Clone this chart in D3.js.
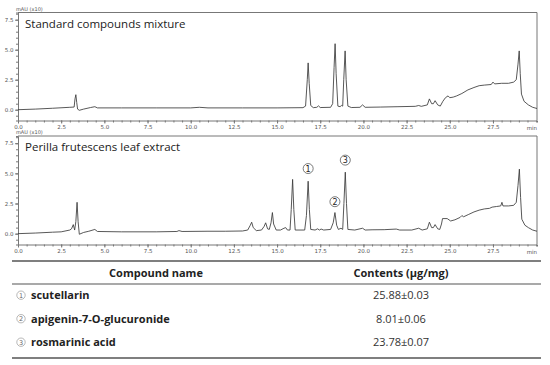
<!DOCTYPE html>
<html lang="en">
<head>
<meta charset="UTF-8">
<title>HPLC chromatograms</title>
<script src="https://d3js.org/d3.v7.min.js"></script>
<style>
  body { margin: 0; background: #fff; }
  .tick text { font-family: "DejaVu Sans", sans-serif; font-size: 5.5px; fill: #555; }
  .tick line, .domain { stroke: #777; }
</style>
</head>
<body>
<div id="chart"></div>
<script>
// Standard compounds mixture trace (time in min, signal in mAU x10)
const stdTime = [0, 1, 2, 3, 3.25, 3.3, 3.35, 3.4, 3.45, 3.55, 3.8, 4.2, 4.45, 4.6, 6, 8, 10, 10.5, 11, 13, 15, 16.5,
  16.65, 16.75, 16.8, 16.86, 16.95, 17.1, 17.3, 17.4, 17.5, 18.1, 18.22, 18.3, 18.36, 18.42, 18.52, 18.65, 18.72, 18.8,
  18.86, 18.94, 19.0, 19.1, 19.3, 19.8, 19.95, 20.1, 21, 22, 23, 23.2, 23.35, 23.7, 23.82, 23.95, 24.05, 24.15, 24.3,
  24.45, 24.6, 24.75, 24.9, 25.0, 25.2, 25.4, 25.7, 26.05, 26.4, 26.7, 27.0, 27.4, 27.5, 27.6, 28.0, 28.4, 28.7, 28.85,
  28.95, 29.02, 29.08, 29.15, 29.3, 29.55, 29.8, 30.05];
const stdSignal = [0, 0.05, 0.12, 0.2, 0.22, 0.9, 1.25, 0.6, 0.05, -0.05, 0.05, 0.18, 0.25, 0.15, 0.15, 0.15, 0.15, 0.2, 0.15, 0.15, 0.15, 0.17,
  0.3, 2.5, 3.9, 2.2, 0.35, 0.17, 0.2, 0.32, 0.18, 0.2, 0.5, 3.5, 5.5, 3.0, 0.3, 0.25, 0.35, 0.3,
  2.5, 4.9, 2.5, 0.3, 0.18, 0.2, 0.4, 0.2, 0.22, 0.25, 0.28, 0.35, 0.28, 0.4, 0.9, 0.5, 0.5, 0.75, 0.4,
  0.3, 0.7, 1.0, 1.15, 1.0, 1.05, 1.15, 1.35, 1.65, 1.85, 2.0, 2.05, 2.1, 2.3, 2.15, 2.2, 2.2, 2.3, 2.5,
  3.8, 4.9, 3.0, 1.3, 0.7, 0.4, 0.2, 0.1];

// Perilla frutescens leaf extract trace
const extTime = [0, 1, 2, 2.5, 3.0, 3.1, 3.2, 3.28, 3.35, 3.42, 3.48, 3.55, 3.8, 4.1, 4.45, 4.6, 6, 8, 9.2, 9.32, 9.5,
  11, 12, 13, 13.3, 13.45, 13.53, 13.62, 13.8, 14.1, 14.25, 14.34, 14.45, 14.55, 14.65, 14.73, 14.8, 14.95, 15.2, 15.4,
  15.5, 15.6, 15.75, 15.82, 15.9, 15.97, 16.05, 16.6, 16.7, 16.8, 16.87, 16.95, 17.2, 17.35, 17.45, 17.55, 17.7, 18.1,
  18.25, 18.35, 18.45, 18.55, 18.7, 18.8, 18.87, 18.95, 19.02, 19.1, 19.5, 19.95, 20.1, 20.5, 21.2, 21.9, 22.1, 22.8,
  23.2, 23.4, 23.7, 23.82, 23.95, 24.05, 24.15, 24.3, 24.42, 24.52, 24.58, 24.85, 25.05, 25.3, 25.6, 25.7, 25.8, 26.1,
  26.4, 26.7, 27.0, 27.3, 27.45, 27.7, 27.95, 28.02, 28.08, 28.4, 28.7, 28.85, 28.95, 29.03, 29.1, 29.17, 29.35, 29.55,
  29.8, 30.05];
const extSignal = [0, 0.05, 0.12, 0.15, 0.3, 0.4, 0.75, 0.3, 1.0, 2.6, 1.0, -0.05, 0.1, 0.2, 0.35, 0.18, 0.15, 0.15, 0.18, 0.25, 0.18,
  0.2, 0.2, 0.22, 0.3, 0.7, 0.95, 0.5, 0.25, 0.3, 0.6, 0.9, 0.4, 0.35, 0.9, 1.75, 0.8, 0.3, 0.3, 0.45,
  0.5, 0.3, 0.3, 2.0, 4.5, 2.0, 0.3, 0.3, 1.5, 4.35, 2.0, 0.35, 0.3, 0.4, 0.3, 0.38, 0.3, 0.35,
  0.9, 1.75, 0.7, 0.35, 0.45, 0.35, 2.5, 5.1, 2.5, 0.35, 0.3, 0.45, 0.3, 0.32, 0.33, 0.38, 0.3, 0.3,
  0.45, 0.3, 0.4, 0.95, 0.5, 0.5, 0.75, 0.4, 0.35, 0.8, 1.25, 1.25, 1.05, 1.15, 1.35, 1.5, 1.4, 1.6,
  1.8, 1.95, 2.05, 2.1, 2.2, 2.25, 2.3, 2.6, 2.3, 2.3, 2.35, 2.6, 4.0, 5.35, 3.0, 1.2, 0.7, 0.5,
  0.3, 0.2];

// numbered peaks in the extract
const peakNums = ["1", "2", "3"];
const peakTimes = [16.8, 18.35, 18.95];
const peakLabelLevels = [5.4, 2.65, 6.1];

// table
const compoundNames = ["scutellarin", "apigenin-7-O-glucuronide", "rosmarinic acid"];
const contents = ["25.88\u00b10.03", "8.01\u00b10.06", "23.78\u00b10.07"];
const tableHeaders = ["Compound name", "Contents (\u00b5g/mg)"];

const majorX = d3.range(0, 27.6, 2.5);
const minorX = d3.range(0, 30.01, 0.5);
const majorY = [0, 2.5, 5, 7.5];
const minorY = d3.range(-0.5, 8.01, 0.5);

const W = 550, H = 365;
const left = 18, right = 537;

const svg = d3.select("#chart").append("svg")
  .attr("width", W).attr("height", H);

const x = d3.scaleLinear().domain([0, 30.05]).range([left, right]);

const panels = [
  { title: "Standard compounds mixture", t: stdTime, v: stdSignal, top: 12.5, bottom: 120.5 },
  { title: "Perilla frutescens leaf extract", t: extTime, v: extSignal, top: 136, bottom: 244.5 }
];

panels.forEach((p, pi) => {
  const y = d3.scaleLinear().domain([-0.9, 8.1]).range([p.bottom, p.top]);
  const g = svg.append("g");

  // frame (top and right)
  g.append("path")
    .attr("d", `M${left},${p.top}H${right}V${p.bottom}`)
    .attr("fill", "none").attr("stroke", "#777").attr("stroke-width", 1);

  // x axis
  g.append("g").attr("transform", `translate(0,${p.bottom})`)
    .call(d3.axisBottom(x).tickValues(minorX).tickSize(2).tickFormat(""));
  const xa = g.append("g").attr("transform", `translate(0,${p.bottom})`)
    .call(d3.axisBottom(x).tickValues(majorX).tickSize(3).tickPadding(2).tickFormat(d3.format(".1f")));
  xa.select(".domain").remove();
  g.append("text").attr("x", x(29.75)).attr("y", p.bottom + 9)
    .attr("text-anchor", "middle")
    .style("font-family", "DejaVu Sans, sans-serif").style("font-size", "5.5px").attr("fill", "#555")
    .text("min");

  // y axis
  g.append("g").attr("transform", `translate(${left},0)`)
    .call(d3.axisLeft(y).tickValues(minorY).tickSize(2).tickFormat(""));
  const ya = g.append("g").attr("transform", `translate(${left},0)`)
    .call(d3.axisLeft(y).tickValues(majorY).tickSize(3).tickPadding(1.5).tickFormat(d3.format(".1f")));
  ya.select(".domain").remove();
  g.append("text").attr("x", 16).attr("y", p.top - 2)
    .style("font-family", "DejaVu Sans, sans-serif").style("font-size", "5px").attr("fill", "#555")
    .text("mAU (x10)");

  g.append("text").attr("x", 25).attr("y", p.top + 15)
    .style("font-family", "Open Sans, sans-serif").style("font-size", "11.5px").attr("fill", "#222")
    .text(p.title);

  const line = d3.line().x(i => x(p.t[i])).y(i => y(p.v[i]));
  g.append("path")
    .attr("d", line(d3.range(p.t.length)))
    .attr("fill", "none").attr("stroke", "#3a3a3a").attr("stroke-width", 0.85)
    .attr("stroke-linejoin", "round");

  if (pi === 1) {
    const lab = g.selectAll(".peak").data(peakNums).enter().append("g")
      .attr("transform", (d, i) => `translate(${x(peakTimes[i])},${y(peakLabelLevels[i])})`);
    lab.append("circle").attr("r", 5).attr("fill", "none").attr("stroke", "#444").attr("stroke-width", 0.7);
    lab.append("text").attr("text-anchor", "middle").attr("dy", "3px")
      .style("font-family", "DejaVu Sans, sans-serif").style("font-size", "8px").attr("fill", "#222")
      .text(d => d);
  }
});

// table
const tx0 = 12, tx1 = 541;
const col1 = 156, col2 = 401;
const rules = [261, 284, 358];
svg.selectAll(".rule").data(rules).enter().append("line")
  .attr("x1", tx0).attr("x2", tx1).attr("y1", d => d).attr("y2", d => d)
  .attr("stroke", "#555").attr("stroke-width", (d, i) => i === 1 ? 1.2 : 1.5);

svg.selectAll(".hdr").data(tableHeaders).enter().append("text")
  .attr("x", (d, i) => i === 0 ? col1 : col2).attr("y", 277)
  .attr("text-anchor", "middle")
  .style("font-family", "Open Sans, sans-serif").style("font-size", "11px").style("font-weight", "bold")
  .attr("fill", "#222").text(d => d);

const rowY = d3.scalePoint().domain(compoundNames).range([299, 346]);
const rows = svg.selectAll(".row").data(compoundNames).enter().append("g")
  .attr("transform", d => `translate(0,${rowY(d)})`);
rows.append("circle").attr("cx", 21).attr("cy", -3.8).attr("r", 4.2)
  .attr("fill", "none").attr("stroke", "#888").attr("stroke-width", 0.6);
rows.append("text").attr("x", 21).attr("y", -1.4).attr("text-anchor", "middle")
  .style("font-family", "DejaVu Sans, sans-serif").style("font-size", "6.5px").attr("fill", "#666")
  .text((d, i) => peakNums[i]);
rows.append("text").attr("x", 31).attr("y", 0)
  .style("font-family", "Open Sans, sans-serif").style("font-size", "11px").style("font-weight", "bold")
  .attr("fill", "#222").text(d => d);
rows.append("text").attr("x", col2).attr("y", 0).attr("text-anchor", "middle")
  .style("font-family", "Open Sans, sans-serif").style("font-size", "11px")
  .attr("fill", "#333").text((d, i) => contents[i]);
</script>
</body>
</html>
